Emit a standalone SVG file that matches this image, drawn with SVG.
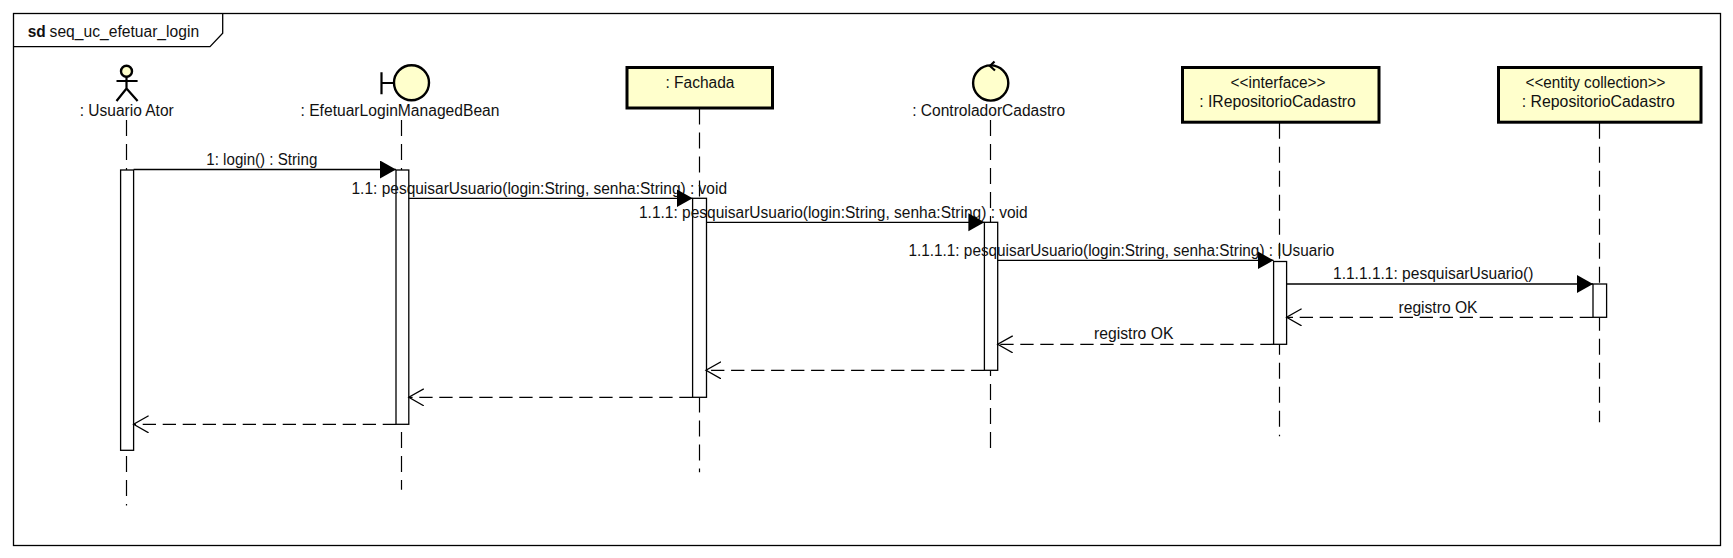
<svg xmlns="http://www.w3.org/2000/svg" width="1733" height="558" viewBox="0 0 1733 558">
<style>
text{font-family:"Liberation Sans",Arial,sans-serif;font-size:16px;fill:#111}
.m{text-anchor:middle}
.frame{fill:none;stroke:#000;stroke-width:1.3}
.life{stroke:#000;stroke-width:1.2;stroke-dasharray:16 8;fill:none}
.act{fill:#fff;stroke:#000;stroke-width:1.3}
.box{fill:#ffffcc;stroke:#000;stroke-width:3}
.icon{fill:#ffffcc;stroke:#000;stroke-width:2.4}
.ln{fill:none;stroke:#000;stroke-width:2.2}
.call{stroke:#000;stroke-width:1.3;fill:none;marker-end:url(#solid)}
.ret{stroke:#000;stroke-width:1.3;fill:none;stroke-dasharray:13.3 6.7;marker-end:url(#open)}
</style>
<defs>
<marker id="solid" markerUnits="userSpaceOnUse" markerWidth="17" markerHeight="20" refX="16" refY="9" orient="auto"><path d="M0,0L16,9L0,18Z" fill="#000"/></marker>
<marker id="open" markerUnits="userSpaceOnUse" markerWidth="17" markerHeight="20" refX="15" refY="9" orient="auto"><path d="M0,.5L15,9L0,17.5" fill="none" stroke="#000" stroke-width="1.3"/></marker>
</defs>
<rect width="1733" height="558" fill="#fff"/>
<g id="frame">
<rect class="frame" x="13.5" y="13.5" width="1707" height="532"/>
<path class="frame" d="M13.5,46.7H210L222.7,33.3V13.5"/>
<text x="27.7" y="36.7" font-weight="bold" textLength="18" lengthAdjust="spacingAndGlyphs">sd</text>
<text x="49.6" y="36.7" textLength="149.5" lengthAdjust="spacingAndGlyphs">seq_uc_efetuar_login</text>
</g>
<g id="lifelines">
<line class="life" x1="126.5" y1="120" x2="126.5" y2="505.5"/>
<line class="life" x1="401.5" y1="120" x2="401.5" y2="489.7"/>
<line class="life" x1="699.5" y1="108.5" x2="699.5" y2="472.3"/>
<line class="life" x1="990.5" y1="120" x2="990.5" y2="448"/>
<line class="life" x1="1279.5" y1="122.7" x2="1279.5" y2="436.3"/>
<line class="life" x1="1599.5" y1="122.7" x2="1599.5" y2="422.3"/>
</g>
<g id="activations">
<rect class="act" x="120.6" y="170" width="13" height="280.3"/>
<rect class="act" x="396" y="170" width="12.8" height="254.3"/>
<rect class="act" x="692.6" y="198.3" width="13.9" height="199"/>
<rect class="act" x="984.4" y="222.3" width="13.3" height="148"/>
<rect class="act" x="1273.6" y="261.5" width="13" height="82.8"/>
<rect class="act" x="1593" y="284" width="13.6" height="33.3"/>
</g>
<g id="actor-usuario">
<circle class="icon" cx="126.5" cy="71.2" r="5.5"/>
<path class="ln" d="M126.5,76.7V88.5M116.5,81H137.6M116.5,101L126.5,88.5L137.6,101"/>
<text class="m" x="126.7" y="115.7" textLength="94" lengthAdjust="spacingAndGlyphs">: Usuario Ator</text>
</g>
<g id="boundary-efetuarlogin">
<circle class="icon" cx="411.5" cy="82.7" r="17.5"/>
<path class="ln" d="M381.5,72.3V94.3M381.5,83H394"/>
<text class="m" x="400" y="115.7" textLength="199" lengthAdjust="spacingAndGlyphs">: EfetuarLoginManagedBean</text>
</g>
<g id="fachada">
<rect class="box" x="627" y="67.5" width="145.5" height="40.5"/>
<text class="m" x="700" y="87.7" textLength="69" lengthAdjust="spacingAndGlyphs">: Fachada</text>
</g>
<g id="control-cadastro">
<circle class="icon" cx="990.7" cy="83" r="17.6"/>
<path class="ln" d="M994.5,61.5L990,66L995,70.5"/>
<text class="m" x="988.7" y="115.7" textLength="153" lengthAdjust="spacingAndGlyphs">: ControladorCadastro</text>
</g>
<g id="irepositorio">
<rect class="box" x="1182.5" y="67.5" width="196.5" height="54.7"/>
<text class="m" x="1278" y="88.3" textLength="95" lengthAdjust="spacingAndGlyphs">&lt;&lt;interface&gt;&gt;</text>
<text class="m" x="1277.5" y="107.3" textLength="156.5" lengthAdjust="spacingAndGlyphs">: IRepositorioCadastro</text>
</g>
<g id="repositorio">
<rect class="box" x="1498.5" y="67.5" width="202.5" height="54.7"/>
<text class="m" x="1595.5" y="88.3" textLength="140" lengthAdjust="spacingAndGlyphs">&lt;&lt;entity collection&gt;&gt;</text>
<text class="m" x="1598.3" y="107.3" textLength="153" lengthAdjust="spacingAndGlyphs">: RepositorioCadastro</text>
</g>
<g id="message-labels">
<text class="m" x="261.8" y="165" textLength="111" lengthAdjust="spacingAndGlyphs">1: login() : String</text>
<text x="351.5" y="194" textLength="375.5" lengthAdjust="spacingAndGlyphs">1.1: pesquisarUsuario(login:String, senha:String) : void</text>
<text x="639" y="218" textLength="388.7" lengthAdjust="spacingAndGlyphs">1.1.1: pesquisarUsuario(login:String, senha:String) : void</text>
<text x="908.5" y="256" textLength="425.8" lengthAdjust="spacingAndGlyphs">1.1.1.1: pesquisarUsuario(login:String, senha:String) : IUsuario</text>
<text x="1333" y="278.5" textLength="200.4" lengthAdjust="spacingAndGlyphs">1.1.1.1.1: pesquisarUsuario()</text>
<text class="m" x="1438" y="313" textLength="79" lengthAdjust="spacingAndGlyphs">registro OK</text>
<text x="1094" y="339.3" textLength="79.4" lengthAdjust="spacingAndGlyphs">registro OK</text>
</g>
<g id="connectors">
<line class="call" x1="133.6" y1="169.5" x2="396" y2="169.5"/>
<line class="call" x1="408.8" y1="198.3" x2="692.6" y2="198.3"/>
<line class="call" x1="706.5" y1="222.3" x2="984.4" y2="222.3"/>
<line class="call" x1="997.7" y1="260.3" x2="1273.6" y2="260.3"/>
<line class="call" x1="1286.6" y1="284" x2="1593" y2="284"/>
<line class="ret" x1="1593" y1="317.3" x2="1286.6" y2="317.3"/>
<line class="ret" x1="1273.6" y1="344.3" x2="997.7" y2="344.3"/>
<line class="ret" x1="984.4" y1="370.3" x2="706" y2="370.3"/>
<line class="ret" x1="692.6" y1="397.3" x2="408.8" y2="397.3"/>
<line class="ret" x1="396" y1="424.3" x2="133.6" y2="424.3"/>
</g>
</svg>
